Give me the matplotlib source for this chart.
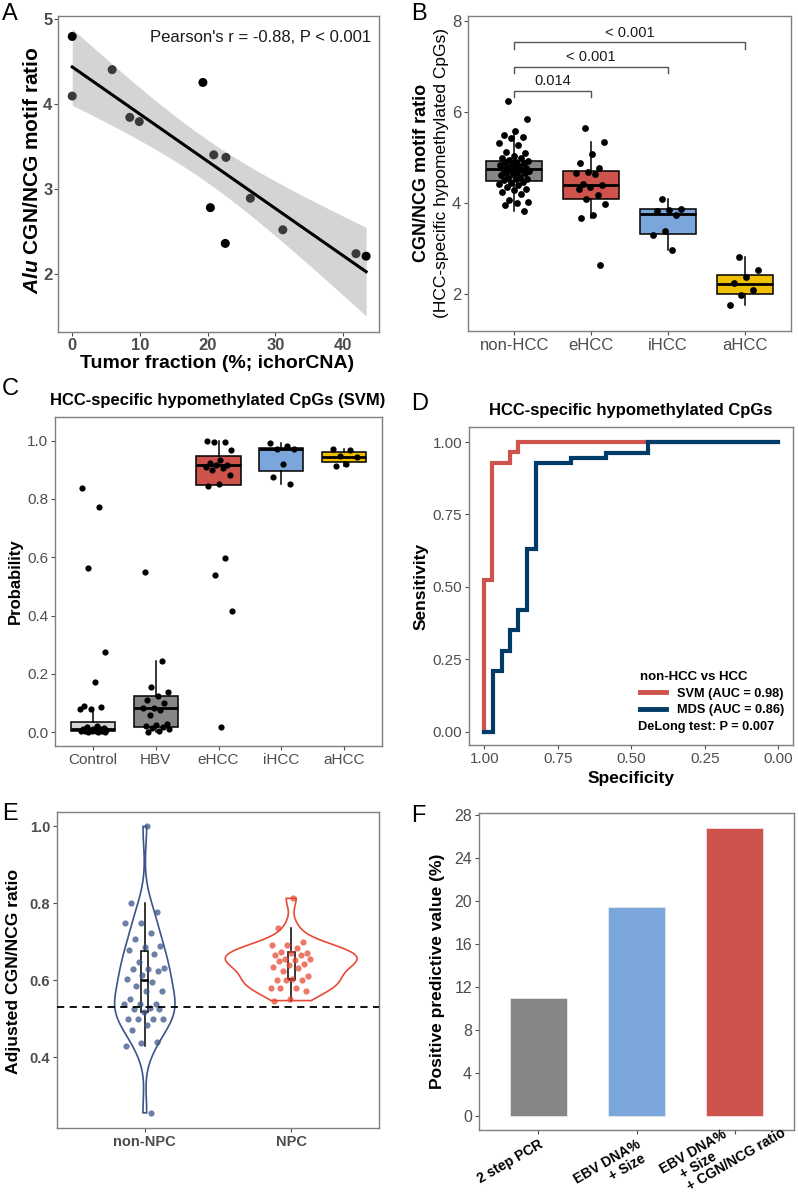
import numpy as np
import matplotlib
matplotlib.use('Agg')
import matplotlib.pyplot as plt
from matplotlib.lines import Line2D
from matplotlib.transforms import blended_transform_factory, offset_copy

plt.rcParams['font.family'] = ['Liberation Sans', 'DejaVu Sans']
plt.rcParams['mathtext.fontset'] = 'custom'
plt.rcParams['mathtext.it'] = 'Liberation Sans:italic:bold'
plt.rcParams['mathtext.rm'] = 'Liberation Sans:bold'

# ---- data ----
# A: tumor fraction vs Alu CGN/NCG ratio
tumor_frac = [0, 0, 5.9, 8.5, 9.9, 19.3, 20.9, 22.7, 20.4, 22.6, 26.3, 31.1, 41.9, 43.4]
alu_ratio = [4.79, 4.09, 4.40, 3.84, 3.79, 4.25, 3.40, 3.37, 2.78, 2.36, 2.89, 2.52, 2.24, 2.21]
alu_group = [1, 0, 0, 0, 0, 1, 0, 0, 1, 1, 0, 0, 0, 1]

# B: CGN/NCG motif ratio by group
b_groups = ['non-HCC', 'eHCC', 'iHCC', 'aHCC']
b_nonhcc = [6.24, 5.84, 5.58, 5.49, 5.46, 5.44, 5.33, 5.27, 5.12, 5.09, 5.03, 4.98, 4.98,
            4.95, 4.93, 4.91, 4.90, 4.87, 4.85, 4.84, 4.82, 4.80, 4.78, 4.76, 4.75, 4.73,
            4.72, 4.70, 4.69, 4.67, 4.65, 4.63, 4.61, 4.58, 4.56, 4.54, 4.52, 4.50, 4.47,
            4.45, 4.43, 4.40, 4.36, 4.32, 4.29, 4.25, 4.21, 4.07, 4.03, 4.00, 3.96, 3.82]
b_ehcc = [5.66, 5.35, 5.07, 4.89, 4.78, 4.69, 4.67, 4.64, 4.43, 4.40, 4.35, 4.32, 4.18,
          4.10, 3.99, 3.74, 3.68, 2.64]
b_ihcc = [4.10, 3.88, 3.85, 3.83, 3.74, 3.39, 3.30, 2.97]
b_ahcc = [2.81, 2.54, 2.38, 2.24, 2.09, 1.98, 1.76]
b_q1 = [4.48, 4.08, 3.33, 2.00]
b_med = [4.74, 4.39, 3.75, 2.23]
b_q3 = [4.93, 4.71, 3.87, 2.43]
b_lo = [3.82, 3.68, 2.97, 1.76]
b_hi = [5.58, 5.35, 4.10, 2.81]
b_pvals = ['0.014', '< 0.001', '< 0.001']

# C: SVM probability
c_groups = ['Control', 'HBV', 'eHCC', 'iHCC', 'aHCC']
c_control = [0.837, 0.772, 0.565, 0.275, 0.174, 0.091, 0.088, 0.080, 0.079, 0.020, 0.018,
             0.015, 0.012, 0.010, 0.010, 0.008, 0.007, 0.006, 0.005, 0.004, 0.003, 0.003,
             0.002, 0.001, 0.001]
c_hbv = [0.548, 0.246, 0.154, 0.139, 0.125, 0.111, 0.100, 0.085, 0.082, 0.075, 0.060,
         0.030, 0.025, 0.022, 0.018, 0.015, 0.010, 0.005, 0.002]
c_ehcc = [0.998, 0.997, 0.996, 0.968, 0.934, 0.925, 0.917, 0.915, 0.911, 0.905, 0.900,
          0.883, 0.851, 0.845, 0.599, 0.540, 0.417, 0.017]
c_ihcc = [0.993, 0.980, 0.972, 0.972, 0.919, 0.877, 0.851]
c_ahcc = [0.971, 0.968, 0.946, 0.944, 0.919, 0.914]
c_q1 = [0.003, 0.019, 0.848, 0.896, 0.928]
c_med = [0.011, 0.082, 0.917, 0.971, 0.945]
c_q3 = [0.036, 0.125, 0.948, 0.974, 0.960]
c_lo = [0.001, 0.002, 0.845, 0.851, 0.914]
c_hi = [0.082, 0.246, 0.998, 0.993, 0.971]

# D: ROC curves
svm_spec = [1.0, 1.0, 0.973, 0.973, 0.913, 0.913, 0.884, 0.884, 0.0]
svm_sens = [0.0, 0.525, 0.525, 0.929, 0.929, 0.965, 0.965, 1.0, 1.0]
mds_spec = [1.0, 0.969, 0.969, 0.941, 0.941, 0.913, 0.913, 0.884, 0.884, 0.854, 0.854,
            0.824, 0.824, 0.706, 0.706, 0.587, 0.587, 0.442, 0.442, 0.0]
mds_sens = [0.0, 0.0, 0.21, 0.21, 0.28, 0.28, 0.35, 0.35, 0.42, 0.42, 0.632, 0.632,
            0.929, 0.929, 0.946, 0.946, 0.963, 0.963, 1.0, 1.0]

# E: adjusted CGN/NCG ratio
e_groups = ['non-NPC', 'NPC']
e_nonnpc = [1.000, 0.800, 0.778, 0.750, 0.750, 0.722, 0.706, 0.689, 0.687, 0.678, 0.667,
            0.648, 0.632, 0.630, 0.628, 0.623, 0.613, 0.602, 0.596, 0.585, 0.571, 0.571,
            0.550, 0.539, 0.537, 0.537, 0.528, 0.525, 0.525, 0.517, 0.500, 0.500, 0.500,
            0.500, 0.483, 0.470, 0.439, 0.436, 0.429, 0.255]
e_npc = [0.813, 0.737, 0.700, 0.691, 0.691, 0.683, 0.674, 0.672, 0.670, 0.665, 0.665,
         0.656, 0.655, 0.653, 0.649, 0.643, 0.640, 0.635, 0.632, 0.623, 0.610, 0.604,
         0.600, 0.600, 0.600, 0.580, 0.580, 0.580, 0.572, 0.551, 0.547]
e_q1 = [0.517, 0.602]
e_med = [0.600, 0.602]
e_q3 = [0.676, 0.674]
e_lo = [0.429, 0.547]
e_hi = [0.800, 0.737]
e_cutoff = 0.531

# F: PPV
f_labels = ['2 step PCR', 'EBV DNA%\n+ Size', 'EBV DNA%\n+ Size\n+ CGN/NCG ratio']
f_ppv = [10.95, 19.45, 26.8]

# colours
GREY = '#868686'
RED = '#CD534C'
BLUE = '#7AA6DC'
YELLOW = '#EFC000'
NAVY = '#003C67'
NPG_BLUE = '#3C5488'
NPG_RED = '#E64B35'

W, H = 798, 1197
fig = plt.figure(figsize=(W / 100, H / 100), dpi=100)


def axes_px(l, t, r, b):
    return fig.add_axes([l / W, 1 - b / H, (r - l) / W, (b - t) / H])


def ftext(x, y, s, **kw):
    return fig.text(x / W, 1 - y / H, s, **kw)


def style(ax, size=11, bold=False, pad=2):
    for s in ax.spines.values():
        s.set_color('#7f7f7f')
        s.set_linewidth(1.0)
    ax.tick_params(length=3, width=0.8, color='#4d4d4d', labelcolor='#4d4d4d',
                   labelsize=size, pad=pad)
    if bold:
        for t in ax.get_xticklabels() + ax.get_yticklabels():
            t.set_fontweight('bold')


def jitter(n, width, phase=0.3):
    i = np.arange(n)
    return ((i * 0.6180339887 + phase) % 1 - 0.5) * 2 * width


def boxes(ax, pos, q1, med, q3, lo, hi, colors, width, medlw=2.0):
    stats = [dict(q1=a, med=m, q3=c, whislo=l, whishi=h, fliers=[])
             for a, m, c, l, h in zip(q1, med, q3, lo, hi)]
    bp = ax.bxp(stats, positions=pos, widths=width, patch_artist=True, showfliers=False,
                showcaps=False, manage_ticks=False,
                boxprops=dict(edgecolor='black', linewidth=1.1),
                whiskerprops=dict(color='black', linewidth=1.1),
                medianprops=dict(color='black', linewidth=medlw, solid_capstyle='butt'))
    for patch, col in zip(bp['boxes'], colors):
        patch.set_facecolor(col)
    return bp


# ---- A ----
axA = axes_px(58, 16, 379, 332)
x = np.array(tumor_frac)
y = np.array(alu_ratio)
slope, inter = np.polyfit(x, y, 1)
n = len(x)
resid = y - (inter + slope * x)
s_err = np.sqrt(np.sum(resid ** 2) / (n - 2))
xg = np.linspace(x.min(), x.max(), 100)
yg = inter + slope * xg
se = s_err * np.sqrt(1 / n + (xg - x.mean()) ** 2 / np.sum((x - x.mean()) ** 2))
tq = 2.179
axA.fill_between(xg, yg - tq * se, yg + tq * se, color='#d4d4d4', lw=0, zorder=1)
axA.plot(xg, yg, color='black', lw=2.2, zorder=2)
cols = ['black' if g else '#3a3a3a' for g in alu_group]
axA.scatter(x, y, s=42, c=cols, zorder=3, linewidths=0)
r = np.corrcoef(x, y)[0, 1]
axA.text(0.975, 0.955, "Pearson's r = %.2f, P < 0.001" % r, transform=axA.transAxes,
         ha='right', va='top', fontsize=12, color='#1a1a1a')
axA.set_xlim(-2.1, 45.3)
axA.set_ylim(1.32, 5.03)
axA.set_xticks([0, 10, 20, 30, 40])
axA.set_yticks([2, 3, 4, 5])
style(axA, size=12, bold=True, pad=1)
ftext(33, 170, r'$\it{Alu}$ CGN/NCG motif ratio', rotation=90, ha='center', va='center',
      fontsize=15, fontweight='bold')
ftext(217, 364, 'Tumor fraction (%; ichorCNA)', ha='center', va='center', fontsize=14,
      fontweight='bold')

# ---- B ----
axB = axes_px(468, 16, 791, 331)
bpos = np.arange(1, 5)
boxes(axB, bpos, b_q1, b_med, b_q3, b_lo, b_hi, [GREY, RED, BLUE, YELLOW], 0.72)
for k, vals in enumerate([b_nonhcc, b_ehcc, b_ihcc, b_ahcc]):
    axB.scatter(bpos[k] + jitter(len(vals), 0.2), vals, s=24, color='black', zorder=4,
                linewidths=0)
for k, lab in enumerate(b_pvals):
    yb = 6.47 + k * 0.53
    x2 = bpos[k + 1]
    axB.plot([1, 1, x2, x2], [yb - 0.14, yb, yb, yb - 0.14], color='#555555', lw=1.0)
    axB.text((1 + x2) / 2, yb + 0.05, lab, ha='center', va='bottom', fontsize=10.5,
             color='#1a1a1a')
axB.set_xlim(0.4, 4.6)
axB.set_ylim(1.19, 8.11)
axB.set_yticks([2, 4, 6, 8])
axB.set_xticks(bpos)
axB.set_xticklabels(b_groups)
style(axB, size=12)
ftext(422, 173, 'CGN/NCG motif ratio', rotation=90, ha='center', va='center',
      fontsize=13, fontweight='bold')
ftext(441, 173, '(HCC-specific hypomethylated CpGs)', rotation=90, ha='center',
      va='center', fontsize=12.5)

# ---- C ----
axC = axes_px(55, 417, 382, 746)
cpos = np.arange(1, 6)
boxes(axC, cpos, c_q1, c_med, c_q3, c_lo, c_hi, ['#D3D3D3', GREY, RED, BLUE, YELLOW], 0.7)
for k, vals in enumerate([c_control, c_hbv, c_ehcc, c_ihcc, c_ahcc]):
    axC.scatter(cpos[k] + jitter(len(vals), 0.22, 0.1), vals, s=20, color='black',
                zorder=4, linewidths=0)
axC.set_xlim(0.4, 5.6)
axC.set_ylim(-0.047, 1.081)
axC.set_yticks([0, 0.2, 0.4, 0.6, 0.8, 1.0])
axC.set_yticklabels(['0.0', '0.2', '0.4', '0.6', '0.8', '1.0'])
axC.set_xticks(cpos)
axC.set_xticklabels(c_groups)
style(axC, size=11)
ftext(218, 400, 'HCC-specific hypomethylated CpGs (SVM)', ha='center', va='center',
      fontsize=12, fontweight='bold')
ftext(15, 581, 'Probability', rotation=90, ha='center', va='center', fontsize=12,
      fontweight='bold')

# ---- D ----
axD = axes_px(469, 427, 793, 745)
axD.plot(svm_spec, svm_sens, color=RED, lw=3.0, solid_joinstyle='miter', zorder=2)
axD.plot(mds_spec, mds_sens, color=NAVY, lw=3.0, solid_joinstyle='miter', zorder=3)
axD.set_xlim(1.052, -0.05)
axD.set_ylim(-0.046, 1.052)
ticks = [1.0, 0.75, 0.5, 0.25, 0.0]
axD.set_xticks(ticks)
axD.set_xticklabels(['%.2f' % t for t in ticks])
axD.set_yticks(ticks)
axD.set_yticklabels(['%.2f' % t for t in ticks])
style(axD, size=11)
handles = [Line2D([], [], color=RED, lw=3.5), Line2D([], [], color=NAVY, lw=3.5)]
leg = axD.legend(handles, ['SVM (AUC = 0.98)', 'MDS (AUC = 0.86)'], title='non-HCC vs HCC',
                 loc='lower left', bbox_to_anchor=(0.5, 0.062), frameon=False,
                 prop=dict(weight='bold', size=9.2), handlelength=2.0, handletextpad=0.9,
                 labelspacing=0.35, alignment='left', borderpad=0.2)
leg.get_title().set_fontweight('bold')
leg.get_title().set_fontsize(9.5)
axD.text(0.522, 0.057, 'DeLong test: P = 0.007', transform=axD.transAxes, ha='left',
         va='center', fontsize=9.2, fontweight='bold')
ftext(631, 410, 'HCC-specific hypomethylated CpGs', ha='center', va='center', fontsize=12,
      fontweight='bold')
ftext(631, 778, 'Specificity', ha='center', va='center', fontsize=12.5, fontweight='bold')
ftext(421, 586, 'Sensitivity', rotation=90, ha='center', va='center', fontsize=12.5,
      fontweight='bold')

# ---- E ----
axE = axes_px(57, 812, 379, 1128)
epos = np.array([1, 2])
evals = [np.array(e_nonnpc), np.array(e_npc)]
ecols = [NPG_BLUE, NPG_RED]
dens_list = []
for v in evals:
    sd = np.std(v, ddof=1)
    iqr = np.subtract(*np.percentile(v, [75, 25]))
    bw = 0.9 * min(sd, iqr / 1.34) * len(v) ** -0.2
    grid = np.linspace(v.min(), v.max(), 512)
    d = np.exp(-0.5 * ((grid[:, None] - v[None, :]) / bw) ** 2).sum(1) / (len(v) * bw * np.sqrt(2 * np.pi))
    dens_list.append((grid, d))
dmax = max(d.max() for _, d in dens_list)
for k, (grid, d) in enumerate(dens_list):
    hw = 0.45 * d / dmax
    xs = np.concatenate([epos[k] - hw, (epos[k] + hw)[::-1]])
    ys = np.concatenate([grid, grid[::-1]])
    axE.fill(xs, ys, facecolor='none', edgecolor=ecols[k], lw=1.2, zorder=2)
boxes(axE, epos, e_q1, e_med, e_q3, e_lo, e_hi, ['white', 'white'], 0.05, medlw=1.8)
for k, v in enumerate(evals):
    axE.scatter(epos[k] + jitter(len(v), 0.14, 0.55), v, s=20, color=ecols[k], alpha=0.75,
                zorder=4, linewidths=0)
axE.axhline(e_cutoff, color='black', lw=1.3, ls=(0, (4, 3)), zorder=5)
axE.set_xlim(0.4, 2.6)
axE.set_ylim(0.2156, 1.0375)
axE.set_yticks([0.4, 0.6, 0.8, 1.0])
axE.set_yticklabels(['0.4', '0.6', '0.8', '1.0'])
axE.set_xticks(epos)
axE.set_xticklabels(e_groups)
style(axE, size=10.5, bold=True)
ftext(14, 972, 'Adjusted CGN/NCG ratio', rotation=90, ha='center', va='center',
      fontsize=12.6, fontweight='bold')

# ---- F ----
axF = axes_px(479, 813, 794, 1130)
fpos = np.arange(1, 4)
axF.bar(fpos, f_ppv, width=0.58, color=[GREY, BLUE, RED], edgecolor='#eeeeee', lw=0.5)
axF.set_xlim(0.4, 3.6)
axF.set_ylim(-1.33, 28.2)
axF.set_yticks(np.arange(0, 29, 4))
axF.set_xticks(fpos)
axF.set_xticklabels([])
style(axF, size=11.5)

# rotated category labels, one text per line so they sit like the reference
renderer = fig.canvas.get_renderer()
btrans = blended_transform_factory(axF.transData, axF.transAxes)
ang = np.deg2rad(30)
u = np.array([np.cos(ang), np.sin(ang)])
p = np.array([np.sin(ang), -np.cos(ang)])
line_px = [15.0, 15.0, 14.5]
indent_px = [[0], [0, 31], [0, 15.5, 15.5]]
corner_px = [(0, -7), (0, -7), (32, 29)]
for k, lab in enumerate(f_labels):
    lines = lab.split('\n')
    widths = []
    for ln in lines:
        tmp = fig.text(0, 0, ln, fontsize=10, fontweight='bold')
        widths.append(tmp.get_window_extent(renderer).width)
        tmp.remove()
    ends = [indent_px[k][i] + widths[i] for i in range(len(lines))]
    wb = max(ends)
    for i, ln in enumerate(lines):
        off = np.array(corner_px[k], dtype=float) + (ends[i] - wb) * u + i * line_px[k] * p
        tr = offset_copy(btrans, fig=fig, x=off[0] * 0.72, y=off[1] * 0.72, units='points')
        axF.text(fpos[k], 0, ln, transform=tr, rotation=30, rotation_mode='anchor',
                 ha='right', va='top', fontsize=10, fontweight='bold', color='black')
ftext(437, 971, 'Positive predictive value (%)', rotation=90, ha='center', va='center',
      fontsize=12.5, fontweight='bold')

# panel letters
for lab, (px, py) in zip('ABCDEF', [(2, 3), (411, 3), (2, 378), (411, 393), (2, 803),
                                    (411, 805)]):
    ftext(px, py, lab, ha='left', va='top', fontsize=17)

fig.savefig('out.png', dpi=100)
